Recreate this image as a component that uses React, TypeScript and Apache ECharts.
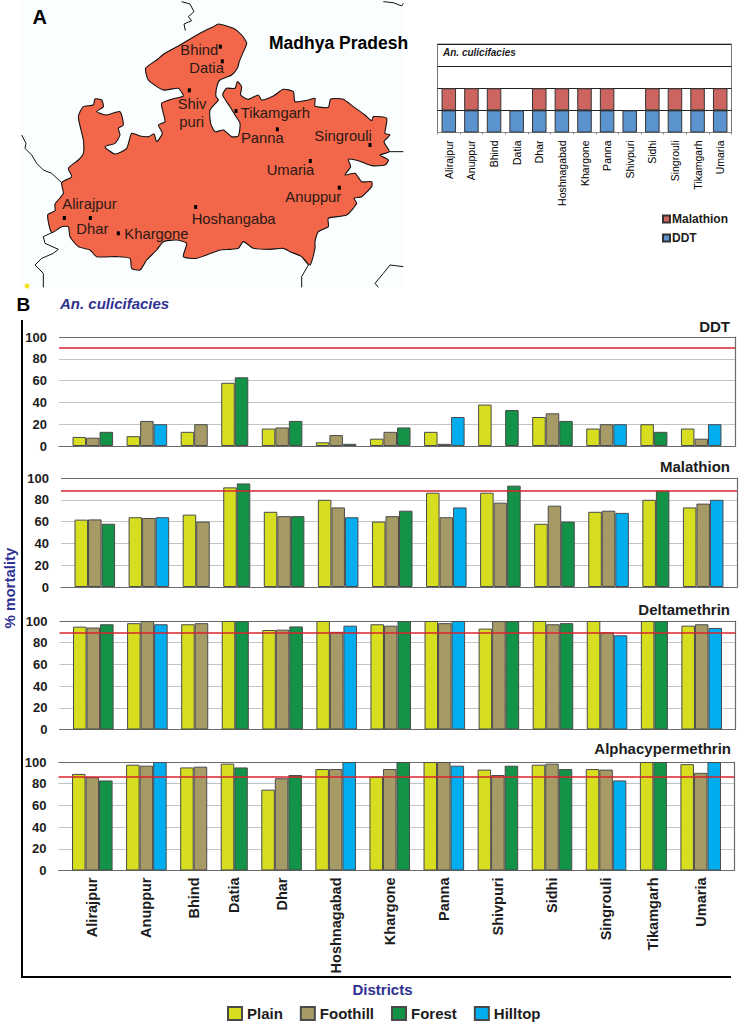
import React, { useEffect, useRef } from "react";
import * as echarts from "echarts";

const FONT = "Liberation Sans";
const ink = "#1c1c1c";
const blue = "#2e3192";

// ---- Main chart data ----
const districts = ["Alirajpur", "Anuppur", "Bhind", "Datia", "Dhar", "Hoshnagabad", "Khargone", "Panna", "Shivpuri", "Sidhi", "Singrouli", "Tikamgarh", "Umaria"];
const zones = ["Plain", "Foothill", "Forest", "Hilltop"];
const zoneColors = ["#d6de1f", "#a69b66", "#129347", "#00aeef"];
// which ecotypes each district's bar group holds
const districtZones = [
  ["Plain", "Foothill", "Forest"],
  ["Plain", "Foothill", "Hilltop"],
  ["Plain", "Foothill"],
  ["Plain", "Forest"],
  ["Plain", "Foothill", "Forest"],
  ["Plain", "Foothill", "Hilltop"],
  ["Plain", "Foothill", "Forest"],
  ["Plain", "Foothill", "Hilltop"],
  ["Plain", "Foothill", "Forest"],
  ["Plain", "Foothill", "Forest"],
  ["Plain", "Foothill", "Hilltop"],
  ["Plain", "Forest"],
  ["Plain", "Foothill", "Hilltop"],
];
const ddtValues = [
  [8.3, 7.6, 13], [9, 23, 20], [13, 20], [58, 63], [16, 17, 23], [3.4, 10, 2], [6.7, 13, 17],
  [13, 2, 26.6], [38, null, 33], [26.6, 30, 23], [16, 20, 20], [20, 13], [16, 6.7, 20],
];
const malathionValues = [
  [61.8, 62, 58], [64, 63.3, 64], [66.4, 60], [91.4, 95], [69, 65, 65], [80, 73, 64], [60, 65, 70],
  [86.5, 64, 73], [86.5, 77.4, 93], [58, 74.6, 60], [69, 70, 68], [80, 88.4], [73, 76.5, 80],
];
const deltamethrinValues = [
  [94.8, 94, 97], [98, 100, 97], [97, 98], [100, 100], [91.7, 92, 95], [100, 90, 95.7], [97, 95.7, 100],
  [100, 98, 100], [93, 100, 100], [100, 97, 98], [100, 89.6, 86.8], [100, 100], [95.7, 97, 93.6],
];
const alphacypermethrinValues = [
  [89, 86, 83], [97.5, 96.6, 100], [95, 95.7], [98.5, 95], [74.5, 85, 88], [93.5, 93.5, 100], [86.5, 93.5, 100],
  [100, 100, 96.6], [93, 88, 96.6], [97.5, 98.5, 93.5], [93.5, 93, 83], [100, 100], [98, 90, 100],
];
const insecticides = ["DDT", "Malathion", "Deltamethrin", "Alphacypermethrin"];
const panelValues = [ddtValues, malathionValues, deltamethrinValues, alphacypermethrinValues];
const thresholds = [90, 88.4, 89, 86.5];
const yTicks = { min: 0, max: 100, interval: 20 };

// ---- Inset chart data ----
const insetDistricts = ["Alirajpur", "Anuppur", "Bhind", "Datia", "Dhar", "Hoshnagabad", "Khargone", "Panna", "Shivpuri", "Sidhi", "Singrouli", "Tikamgarh", "Umaria"];
const insetDDT = [1, 1, 1, 1, 1, 1, 1, 1, 1, 1, 1, 1, 1];
const insetMalathion = [1, 1, 1, null, 1, 1, 1, 1, null, 1, 1, 1, 1];

// ---- Map sketch (3x picture coordinates) ----
const mapOutline = [
  [655,72],[700,85],[725,105],[740,130],[728,160],[718,185],[712,205],[695,225],[660,240],[650,262],[648,290],[655,300],[630,330],[632,370],[645,395],[670,390],[695,410],[715,408],[720,370],[705,345],[690,320],[668,285],[680,265],[705,265],[712,245],[725,260],[722,285],[745,298],[775,285],[785,300],[820,288],[850,268],[880,275],[885,305],[925,300],[945,295],[945,318],[985,322],[992,297],[1030,298],[1060,320],[1095,345],[1115,362],[1120,350],[1160,355],[1155,400],[1170,405],[1152,425],[1168,455],[1140,465],[1165,480],[1155,495],[1115,497],[1075,482],[1045,478],[1052,500],[1035,525],[1065,520],[1085,545],[1115,545],[1115,560],[1085,590],[1062,595],[1070,610],[1040,645],[985,655],[985,680],[955,695],[945,725],[945,745],[930,795],[905,770],[870,755],[850,745],[810,748],[760,745],[730,725],[715,745],[690,748],[660,750],[590,775],[550,770],[560,730],[530,720],[490,725],[470,750],[440,780],[420,810],[395,805],[390,775],[350,770],[290,770],[270,750],[235,740],[210,710],[205,680],[185,680],[155,698],[143,645],[165,632],[165,612],[190,580],[185,548],[215,530],[205,505],[235,480],[250,460],[250,420],[235,350],[250,320],[280,315],[285,297],[305,300],[310,320],[290,335],[320,345],[360,335],[370,375],[355,385],[360,405],[345,430],[315,440],[345,462],[380,445],[395,400],[420,408],[445,410],[462,402],[470,425],[487,400],[475,375],[495,365],[485,310],[525,295],[550,288],[535,265],[490,270],[445,240],[437,205],[470,180],[495,160],[540,135],[600,100],[640,80],
];
const mapBorders = [
  [[545,5],[570,12],[582,35],[565,50],[575,62],[552,72],[556,92]],
  [[1150,5],[1180,8],[1205,18],[1210,10]],
  [[65,405],[78,430],[75,445],[95,465],[110,490],[130,510],[155,520],[185,548]],
  [[1168,455],[1210,455]],
  [[155,698],[130,710],[135,730],[175,748],[160,760],[125,775],[105,795],[130,820],[130,862]],
  [[905,770],[925,795],[905,830],[905,862]],
  [[1210,800],[1170,795],[1150,820],[1125,850],[1135,862]],
];
const mapLabels: [string, number, number][] = [
  ["Bhind", 541, 150], ["Datia", 568, 205], ["Shiv", 533, 312], ["puri", 538, 365], ["Tikamgarh", 722, 338],
  ["Panna", 723, 413], ["Singrouli", 943, 407], ["Umaria", 800, 510], ["Anuppur", 856, 590], ["Alirajpur", 187, 612],
  ["Dhar", 229, 688], ["Khargone", 373, 703], ["Hoshangaba", 575, 656],
];
const mapDots = [[661,140],[667,184],[568,271],[708,333],[832,388],[1110,435],[931,483],[1018,563],[587,621],[193,654],[271,654],[355,700]];

// Panel frames [left, top, right-edge, bottom] in picture pixels
const frames = [
  [59, 337, 735, 446],
  [61, 478, 737, 587],
  [59.5, 621, 735.5, 729.5],
  [58.5, 762, 734.5, 870.5],
];
const titleRight = [730, 730, 730, 731];
const titleY = [326, 466, 609, 748];

// Flat slot list: one leading gap, each district's bars, one gap after each group
const slots: { label: string; zone: string | null; d: number; i: number }[] = [{ label: "start", zone: null, d: -1, i: -1 }];
const centres: { v: number; name: string }[] = [];
districts.forEach((name, d) => {
  const zs = districtZones[d];
  centres.push({ v: slots.length + zs.length / 2, name });
  zs.forEach((z, i) => slots.push({ label: `${name} ${z}`, zone: z, d, i }));
  slots.push({ label: `${name} gap`, zone: null, d, i: -1 });
});

function text(t: string, x: number, y: number, size: number, extra: any = {}, rotation = 0) {
  const { fill = ink, weight = "bold", align = "left", style = "normal" } = extra;
  return {
    type: "text", x, y, rotation, z: 20,
    style: { text: t, fontFamily: FONT, fontSize: size, fontWeight: weight, fontStyle: style, fill, align, verticalAlign: "middle" },
  };
}

function buildOption() {
  const scale = (p: number[]) => [p[0] / 3, p[1] / 3];
  const graphic: any[] = [
    { type: "rect", z: 1, shape: { x: 20, y: 0, width: 383, height: 288 }, style: { fill: "#fbfeff" } },
    ...mapBorders.map((b) => ({ type: "polyline", z: 2, shape: { points: b.map(scale) }, style: { stroke: "#111", lineWidth: 1, fill: "none" } })),
    { type: "circle", z: 2, shape: { cx: 27, cy: 286, r: 2.5 }, style: { fill: "#f2e21c" } },
    { type: "polygon", z: 3, shape: { points: mapOutline.map(scale), smooth: 0.2 }, style: { fill: "#f26649", stroke: "#111", lineWidth: 1.1, lineJoin: "round" } },
    ...mapDots.map((p) => ({ type: "rect", z: 4, shape: { x: p[0] / 3 - 1.5, y: p[1] / 3 - 2, width: 3, height: 4 }, style: { fill: "#000" } })),
    ...mapLabels.map(([t, x, y]) => text(t, x / 3, y / 3, 14.8, { weight: "normal", fill: "#2a1a16" })),
    text("A", 32.5, 17, 20, { fill: "#000" }),
    text("Madhya Pradesh", 269, 43, 17.5, { fill: "#000" }),
    text("An. culicifacies", 443, 52, 10, { style: "italic" }),
    text("B", 16.5, 304, 19, { fill: "#000" }),
    text("An. culicifacies", 60, 303, 15, { fill: blue, style: "italic" }),
    { type: "line", z: 10, shape: { x1: 22, y1: 320, x2: 22, y2: 978 }, style: { stroke: "#000", lineWidth: 2 } },
    { type: "line", z: 10, shape: { x1: 21, y1: 977, x2: 731, y2: 977 }, style: { stroke: "#000", lineWidth: 2 } },
    text("% mortality", 9.5, 588, 15, { fill: blue, align: "center" }, Math.PI / 2),
    text("Districts", 382.5, 989, 15, { fill: blue, align: "center" }),
    ...insecticides.map((t, i) => text(t, titleRight[i], titleY[i], 15, { align: "right" })),
  ];

  const grid: any[] = [], xAxis: any[] = [], yAxis: any[] = [], series: any[] = [];

  frames.forEach(([l, t, r, b], p) => {
    grid.push({ left: l, top: t, width: r - l, height: b - t });
    xAxis.push({
      type: "category", gridIndex: p, data: slots.map((s) => s.label),
      axisLabel: { show: false }, axisTick: { show: false },
      axisLine: { show: true, onZero: false, lineStyle: { color: "#6b6b6b", width: 1.2 } },
    });
    yAxis.push({
      type: "value", gridIndex: p, ...yTicks,
      axisLine: { show: false }, axisTick: { show: false },
      axisLabel: { fontFamily: FONT, fontSize: 13, fontWeight: "bold", color: ink, margin: 12 },
      splitLine: { show: true, lineStyle: { width: 1.2, color: ["#6b6b6b", "#c4c4c4", "#c4c4c4", "#c4c4c4", "#c4c4c4", "#6b6b6b"] } },
    });
    yAxis.push({
      type: "value", gridIndex: p, position: "right", ...yTicks,
      axisLine: { show: true, lineStyle: { color: "#6b6b6b", width: 1.2 } },
      axisTick: { show: false }, axisLabel: { show: false }, splitLine: { show: false },
    });
    zones.forEach((z, zi) => {
      series.push({
        type: "bar", name: z, xAxisIndex: p, yAxisIndex: p * 2, stack: `p${p}`, barWidth: "100%",
        itemStyle: { color: zoneColors[zi], borderColor: "#4a4a4a", borderWidth: 1 },
        data: slots.map((s) => (s.zone === z ? panelValues[p][s.d][s.i] : null)),
        ...(zi === 0
          ? {
              markLine: {
                silent: true, symbol: "none", label: { show: false }, animation: false, z: 10,
                lineStyle: { color: "#d8232e", width: 1.5, type: "solid" },
                data: [{ yAxis: thresholds[p] }],
              },
            }
          : {}),
      });
    });
  });

  // value-scaled label axis: districts' names centred under their bar groups
  xAxis.push({
    type: "value", gridIndex: 3, position: "bottom", min: 0, max: slots.length,
    axisLine: { show: false }, axisTick: { show: false }, splitLine: { show: false },
    axisLabel: {
      show: true, rotate: 90, margin: 7, fontFamily: FONT, fontSize: 14.5, fontWeight: "bold", color: ink,
      customValues: centres.map((c) => c.v),
      formatter: (v: number) => centres.find((c) => c.v === v)?.name ?? "",
    },
  });

  // inset chart
  const insetGrid = grid.length;
  grid.push({ left: 437.5, top: 44, width: 294, height: 88.5, show: true, borderColor: "#777", borderWidth: 1 });
  const insetX = xAxis.length;
  xAxis.push({
    type: "category", gridIndex: insetGrid, data: insetDistricts,
    axisTick: { show: true, length: 2, lineStyle: { color: "#888" } },
    axisLine: { show: true, lineStyle: { color: "#888" } },
    axisLabel: { interval: 0, rotate: 90, margin: 8, fontFamily: FONT, fontSize: 10.5, color: "#000" },
  });
  const insetY = yAxis.length;
  yAxis.push({
    type: "value", gridIndex: insetGrid, min: 0, max: 4, interval: 1,
    axisLine: { show: false }, axisTick: { show: false }, axisLabel: { show: false },
    splitLine: { show: true, lineStyle: { color: "#222", width: 1 } },
  });
  const insetBar = { type: "bar", xAxisIndex: insetX, yAxisIndex: insetY, stack: "inset", barWidth: 14.5 };
  series.push({ ...insetBar, name: "DDT", itemStyle: { color: "#5b93cf", borderColor: "#333", borderWidth: 1 }, data: insetDDT });
  series.push({ ...insetBar, name: "Malathion", itemStyle: { color: "#cc6560", borderColor: "#333", borderWidth: 1 }, data: insetMalathion });

  return {
    animation: false,
    backgroundColor: "#fff",
    textStyle: { fontFamily: FONT },
    grid, xAxis, yAxis, series, graphic,
    legend: [
      {
        data: zones, left: 227, top: 1006, padding: 0, itemWidth: 14, itemHeight: 13, itemGap: 17, icon: "rect",
        selectedMode: false, textStyle: { fontFamily: FONT, fontSize: 15, fontWeight: "bold", color: ink },
      },
      {
        data: ["Malathion", "DDT"], left: 662, top: 213, padding: 0, orient: "vertical", itemWidth: 7, itemHeight: 7, itemGap: 7, icon: "rect",
        selectedMode: false, textStyle: { fontFamily: FONT, fontSize: 12, fontWeight: "bold", color: ink, padding: [0, 0, 0, -3] },
      },
    ],
  };
}

export default function App() {
  const ref = useRef<HTMLDivElement>(null);
  useEffect(() => {
    const chart = echarts.init(ref.current!, null, { renderer: "svg" });
    chart.setOption(buildOption() as any);
    return () => chart.dispose();
  }, []);
  return <div ref={ref} style={{ position: "absolute", left: 0, top: 0, width: 740, height: 1025 }} />;
}
